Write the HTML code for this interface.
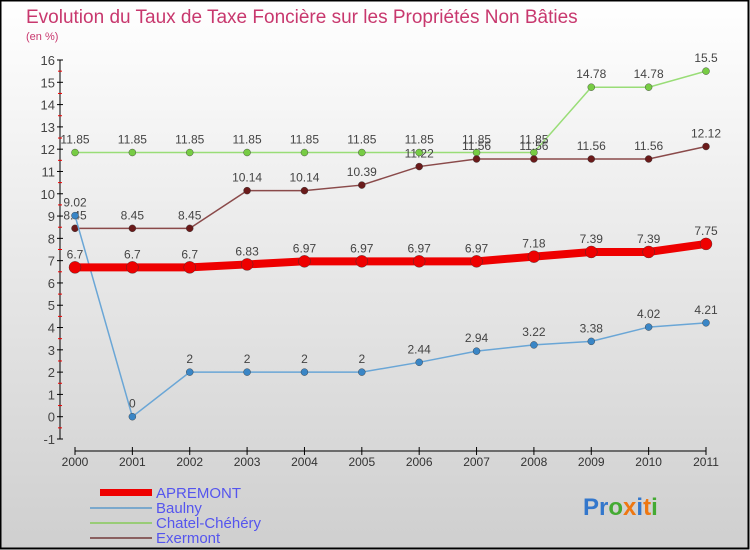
<!DOCTYPE html>
<html><head><meta charset="utf-8"><style>
body{margin:0}
#c{position:relative;width:750px;height:550px;overflow:hidden;font-family:"Liberation Sans",sans-serif}
</style></head><body>
<div id="c">
<svg id="s" width="750" height="550" xmlns="http://www.w3.org/2000/svg">
<defs><linearGradient id="bg" x1="0" y1="0" x2="0" y2="1"><stop offset="0" stop-color="#ffffff"/><stop offset="1" stop-color="#cfcfcf"/></linearGradient></defs>
<rect x="0.5" y="0.5" width="748" height="548" fill="url(#bg)" stroke="#000" stroke-width="2"/>
<text x="26" y="23" font-size="19" fill="#c8386e">Evolution du Taux de Taxe Foncière sur les Propriétés Non Bâties</text>
<text x="26" y="40" font-size="11" fill="#c8386e">(en %)</text>
<g id="axes"></g><g id="series"></g>
<g font-size="15" fill="#5555ee">
<rect x="100" y="489" width="52" height="7" fill="#e00"/>
<text x="156" y="498">APREMONT</text>
<rect x="90" y="507" width="62" height="2" fill="#7aa8cc"/>
<text x="156" y="513">Baulny</text>
<rect x="90" y="522" width="62" height="2" fill="#99cc77"/>
<text x="156" y="528">Chatel-Chéhéry</text>
<rect x="90" y="537" width="62" height="2" fill="#8a6060"/>
<text x="156" y="543">Exermont</text>
</g>
<g font-size="24" font-weight="bold"><text x="583" y="515"><tspan fill="#3377cc">Pr</tspan><tspan fill="#44aa33">o</tspan><tspan fill="#ee7711">x</tspan><tspan fill="#3377cc">i</tspan><tspan fill="#ee7711">t</tspan><tspan fill="#44aa33">i</tspan></text></g>
</svg></div>
<script>
const years=[2000,2001,2002,2003,2004,2005,2006,2007,2008,2009,2010,2011];
const yTicks=[-1,0,1,2,3,4,5,6,7,8,9,10,11,12,13,14,15,16];
const apremont=[6.7,6.7,6.7,6.83,6.97,6.97,6.97,6.97,7.18,7.39,7.39,7.75];
const baulny=[9.02,0,2,2,2,2,2.44,2.94,3.22,3.38,4.02,4.21];
const chatel=[11.85,11.85,11.85,11.85,11.85,11.85,11.85,11.85,11.85,14.78,14.78,15.5];
const exermont=[8.45,8.45,8.45,10.14,10.14,10.39,11.22,11.56,11.56,11.56,11.56,12.12];
const aLbl=["6.7","6.7","6.7","6.83","6.97","6.97","6.97","6.97","7.18","7.39","7.39","7.75"];
const bLbl=["9.02","0","2","2","2","2","2.44","2.94","3.22","3.38","4.02","4.21"];
const cLbl=["11.85","11.85","11.85","11.85","11.85","11.85","11.85","11.85","11.85","14.78","14.78","15.5"];
const eLbl=["8.45","8.45","8.45","10.14","10.14","10.39","11.22","11.56","11.56","11.56","11.56","12.12"];
const NS="http://www.w3.org/2000/svg";
const X=i=>75+i*(706-75)/11, Y=v=>60+(16-v)*(439-60)/17;
function mk(p,t,a){const e=document.createElementNS(NS,t);for(const k in a)e.setAttribute(k,a[k]);p.appendChild(e);return e;}
const ax=document.getElementById('axes');
const yl=mk(ax,'line',{x1:60,y1:60,x2:60,y2:439,stroke:'#000'});


yTicks.forEach(v=>{
 mk(ax,'line',{x1:57,x2:63,y1:Y(v),y2:Y(v),stroke:'#000'});
 if(v<16) mk(ax,'line',{x1:58,x2:62,y1:Y(v+0.5),y2:Y(v+0.5),stroke:'#e00'});
 const t=mk(ax,'text',{x:55,y:Y(v)+5,'font-size':13,'text-anchor':'end',fill:'#444'});t.textContent=v;
 
 
});
const xl=mk(ax,'line',{x1:75,y1:451,x2:706,y2:451,stroke:'#000'});


years.forEach((y,i)=>{
 mk(ax,'line',{x1:X(i),x2:X(i),y1:447,y2:455,stroke:'#000'});
 const t=mk(ax,'text',{x:X(i),y:466,'font-size':12,'text-anchor':'middle',fill:'#333'});t.textContent=y;
 
 
});
const sg=document.getElementById('series');
function series(name,vals,lbls,col,dot,w,r){
 const g=mk(sg,'g',{});
 
 
 mk(g,'polyline',{points:vals.map((v,i)=>X(i)+','+Y(v)).join(' '),fill:'none',stroke:col,'stroke-width':w});
 vals.forEach((v,i)=>{
  const c=mk(g,'circle',{cx:X(i),cy:Y(v),r:r,fill:dot,stroke:'#333','stroke-width':0.4});
  
  
  const t=mk(g,'text',{x:X(i),y:Y(v)-9,'font-size':12,'text-anchor':'middle',fill:'#444'});t.textContent=lbls[i];
  
  
 });
}
series('chatel',chatel,cLbl,'#99dd77','#77cc44',1.5,3.5);
series('exermont',exermont,eLbl,'#8a4a4a','#6a1a1a',1.5,3.5);
series('baulny',baulny,bLbl,'#6aa6d6','#3a86c6',1.5,3.5);
series('apremont',apremont,aLbl,'#ee0000','#ee0000',8,6);
</script>
</body></html>
